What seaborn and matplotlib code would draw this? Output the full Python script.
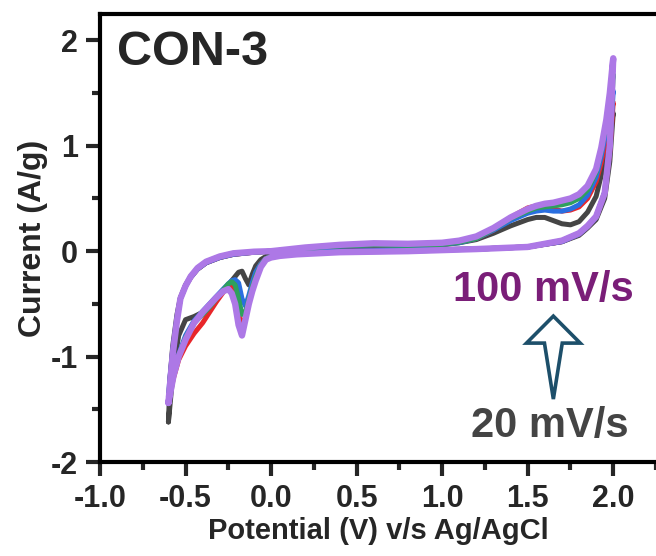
import matplotlib
matplotlib.use("Agg")
import matplotlib.pyplot as plt
from matplotlib.patches import Polygon
import seaborn as sns
import numpy as np
import pandas as pd

# potentials for the anodic (forward) and cathodic (reverse) sweeps, V vs Ag/AgCl
fwd_v = [-0.6, -0.59, -0.575, -0.55, -0.53, -0.5, -0.47, -0.43, -0.38, -0.3, -0.22, -0.1,
         0.0, 0.2, 0.4, 0.6, 0.8, 1.0, 1.1, 1.2, 1.3, 1.4, 1.5, 1.55, 1.6, 1.65, 1.7,
         1.75, 1.8, 1.85, 1.9, 1.93, 1.96, 1.98, 2.0]
rev_v = [2.0, 1.98, 1.95, 1.9, 1.85, 1.8, 1.7, 1.5, 1.2, 0.8, 0.4, 0.15, 0.05, 0.0,
         -0.03, -0.06, -0.09, -0.11, -0.13, -0.15, -0.17, -0.19, -0.21, -0.23, -0.25,
         -0.28, -0.32, -0.36, -0.4, -0.45, -0.5, -0.54, -0.57, -0.6]

rates = ["20 mV/s", "40 mV/s", "60 mV/s", "80 mV/s", "100 mV/s"]
colors = ["#454545", "#e8262a", "#2a6fe0", "#2fa05c", "#ad78e6"]

# current (A/g), forward sweep
fwd_i = {
    "20 mV/s": [-1.62, -1.2, -0.9, -0.6, -0.44, -0.32, -0.24, -0.17, -0.11, -0.06, -0.03, -0.01,
                0.0, 0.02, 0.04, 0.05, 0.05, 0.06, 0.08, 0.11, 0.17, 0.24, 0.30, 0.32, 0.32, 0.29,
                0.26, 0.25, 0.28, 0.37, 0.52, 0.72, 0.95, 1.12, 1.31],
    "40 mV/s": [-1.42, -1.2, -0.95, -0.64, -0.45, -0.33, -0.25, -0.17, -0.11, -0.06, -0.03, -0.01,
                0.0, 0.03, 0.05, 0.06, 0.055, 0.065, 0.085, 0.12, 0.2, 0.32, 0.41, 0.43, 0.42, 0.4,
                0.38, 0.39, 0.42, 0.5, 0.66, 0.84, 1.08, 1.25, 1.41],
    "60 mV/s": [-1.38, -1.18, -0.94, -0.63, -0.45, -0.33, -0.25, -0.17, -0.11, -0.06, -0.03, -0.01,
                0.0, 0.03, 0.05, 0.06, 0.055, 0.065, 0.08, 0.12, 0.2, 0.29, 0.36, 0.38, 0.39, 0.38,
                0.38, 0.40, 0.44, 0.53, 0.7, 0.9, 1.15, 1.33, 1.52],
    "80 mV/s": [-1.42, -1.22, -0.96, -0.65, -0.45, -0.33, -0.24, -0.16, -0.10, -0.05, -0.02, -0.01,
                0.0, 0.03, 0.05, 0.06, 0.055, 0.065, 0.085, 0.12, 0.21, 0.31, 0.38, 0.41, 0.42, 0.43,
                0.44, 0.46, 0.5, 0.58, 0.75, 0.95, 1.22, 1.42, 1.68],
    "100 mV/s": [-1.44, -1.25, -0.98, -0.66, -0.45, -0.33, -0.24, -0.16, -0.10, -0.05, -0.02, -0.005,
                 0.0, 0.035, 0.06, 0.075, 0.07, 0.08, 0.1, 0.14, 0.22, 0.32, 0.40, 0.43, 0.45, 0.46,
                 0.48, 0.5, 0.54, 0.62, 0.78, 0.98, 1.25, 1.5, 1.83],
}

# current (A/g), reverse sweep
rev_i = {
    "20 mV/s": [1.31, 0.85, 0.5, 0.3, 0.22, 0.15, 0.09, 0.04, 0.02, 0.01, 0.0, -0.015, -0.03, -0.04,
                -0.05, -0.08, -0.14, -0.22, -0.32, -0.26, -0.19, -0.2, -0.24, -0.28, -0.32,
                -0.38, -0.45, -0.52, -0.58, -0.62, -0.65, -0.8, -1.1, -1.62],
    "40 mV/s": [1.41, 0.95, 0.55, 0.32, 0.23, 0.16, 0.09, 0.04, 0.02, 0.01, 0.0, -0.015, -0.035, -0.05,
                -0.07, -0.12, -0.22, -0.32, -0.48, -0.62, -0.72, -0.6, -0.42, -0.34, -0.33,
                -0.39, -0.48, -0.58, -0.68, -0.78, -0.9, -1.03, -1.2, -1.42],
    "60 mV/s": [1.52, 0.98, 0.56, 0.32, 0.23, 0.16, 0.09, 0.04, 0.02, 0.01, 0.0, -0.015, -0.035, -0.05,
                -0.07, -0.12, -0.2, -0.3, -0.42, -0.52, -0.45, -0.3, -0.27, -0.28, -0.31,
                -0.36, -0.43, -0.5, -0.57, -0.66, -0.8, -0.98, -1.15, -1.38],
    "80 mV/s": [1.68, 1.0, 0.56, 0.33, 0.24, 0.17, 0.1, 0.04, 0.02, 0.0, -0.01, -0.02, -0.04, -0.05,
                -0.07, -0.13, -0.24, -0.34, -0.46, -0.58, -0.6, -0.45, -0.32, -0.29, -0.31,
                -0.37, -0.45, -0.53, -0.6, -0.68, -0.82, -1.0, -1.18, -1.42],
    "100 mV/s": [1.83, 1.0, 0.55, 0.33, 0.24, 0.17, 0.1, 0.04, 0.02, 0.0, -0.01, -0.03, -0.045, -0.06,
                 -0.08, -0.15, -0.28, -0.38, -0.5, -0.65, -0.8, -0.7, -0.5, -0.4, -0.36,
                 -0.38, -0.44, -0.51, -0.58, -0.68, -0.84, -1.0, -1.18, -1.44],
}

rows = []
for r in rates:
    v = fwd_v + rev_v
    i = fwd_i[r] + rev_i[r]
    for k in range(len(v)):
        rows.append({"rate": r, "step": k, "Potential": v[k], "Current": i[k]})
df = pd.DataFrame(rows)

sns.set_style("ticks")
plt.rcParams["font.family"] = ["Liberation Sans", "DejaVu Sans"]
plt.rcParams["font.weight"] = "bold"

fig = plt.figure(figsize=(6.56, 5.56), dpi=100)
ax = fig.add_axes([100 / 656, 1 - 462 / 556, 1 - 100 / 656, 448 / 556])

for r, c in zip(rates, colors):
    lw = 4.6 if r == "100 mV/s" else 3.6
    sns.lineplot(data=df[df["rate"] == r], x="Potential", y="Current", sort=False,
                 estimator=None, color=c, lw=lw, ax=ax, solid_capstyle="round",
                 solid_joinstyle="round")

ax.set_xlim(-1.0, 2.24)
ax.set_ylim(-2.0, 2.25)
ax.set_xticks(np.arange(-1.0, 2.01, 0.5))
ax.set_xticks(np.arange(-0.75, 2.3, 0.5), minor=True)
ax.set_yticks([-2, -1, 0, 1, 2])
ax.set_yticks([-1.5, -0.5, 0.5, 1.5], minor=True)
ax.set_xticklabels(["-1.0", "-0.5", "0.0", "0.5", "1.0", "1.5", "2.0"])
ax.set_yticklabels(["-2", "-1", "0", "1", "2"])

for s in ["left", "top", "bottom"]:
    ax.spines[s].set_linewidth(3)
    ax.spines[s].set_color("black")
ax.spines["right"].set_visible(False)
ax.tick_params(which="major", direction="out", length=10, width=3, labelsize=22, pad=6)
ax.tick_params(which="minor", direction="out", length=6, width=3)

ax.set_xlabel("Potential (V) v/s Ag/AgCl", fontsize=21, fontweight="bold", labelpad=2)
ax.set_ylabel("Current (A/g)", fontsize=23, fontweight="bold", labelpad=2)

ax.text(0.03, 0.915, "CON-3", transform=ax.transAxes, fontsize=35, fontweight="bold",
        ha="left", va="center")
ax.text(1.59, -0.37, "100 mV/s", fontsize=30, fontweight="bold", color="#7a1e78",
        ha="center", va="center")
ax.text(1.63, -1.66, "20 mV/s", fontsize=30, fontweight="bold", color="#444444",
        ha="center", va="center")

# hollow up-arrow between the two labels (tapered shaft, triangular head)
arrow = Polygon([(1.65, -0.616), (1.807, -0.872), (1.702, -0.872), (1.65, -1.403),
                 (1.598, -0.872), (1.493, -0.872)], closed=True, fc="white",
                ec="#1d4f6a", lw=2.6, joinstyle="miter", zorder=5)
ax.add_patch(arrow)

fig.savefig("out.png", dpi=100)
